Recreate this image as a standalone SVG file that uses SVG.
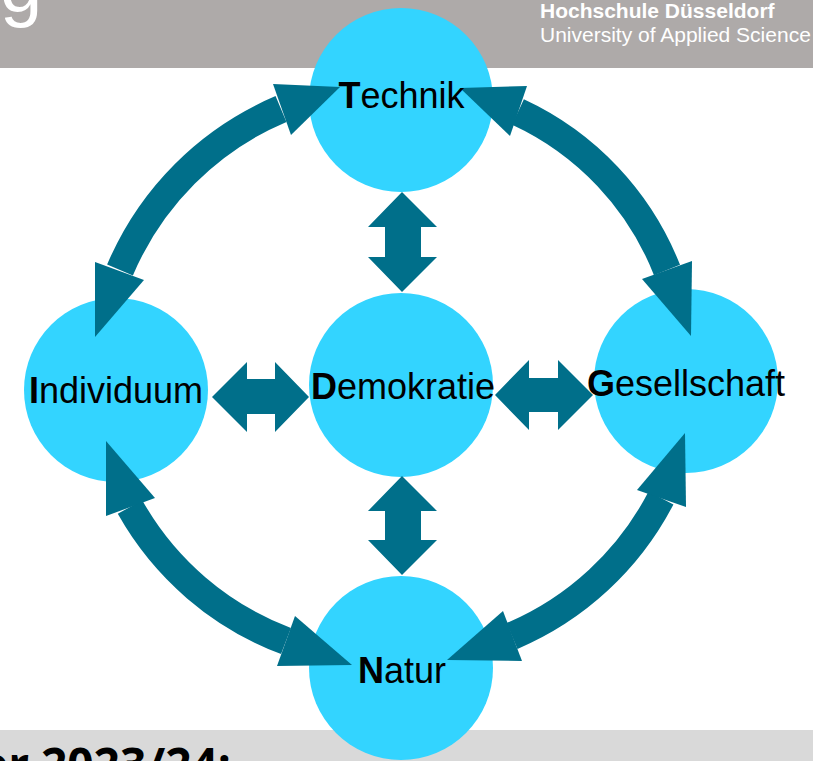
<svg xmlns="http://www.w3.org/2000/svg" width="813" height="761" viewBox="0 0 813 761">
<style>
.node{fill:#33d4ff}
.arrow{fill:#006f8a}
.shaft{fill:none;stroke:#006f8a;stroke-width:28}
.lbl{font-family:"Liberation Sans",Arial,sans-serif;font-size:36px;fill:#000;text-anchor:middle}
.b{font-weight:bold}
.hdr{font-family:"Liberation Sans",Arial,sans-serif;fill:#fff}
</style>
<rect x="0" y="0" width="813" height="68" fill="#aeaaa9"/>
<text class="hdr" x="0" y="12" font-size="76">g</text>
<text class="hdr" x="540" y="18" font-size="21" font-weight="bold">Hochschule Düsseldorf</text>
<text class="hdr" x="540" y="42" font-size="21">University of Applied Science</text>
<rect x="0" y="730" width="813" height="31" fill="#d9d9d9"/>
<text x="-19" y="781" font-family="'Open Sans','Liberation Sans',sans-serif" font-weight="bold" font-size="46" fill="#000">er 2023/24:</text>

<g id="technik"><circle class="node" cx="401" cy="100" r="92"/></g>
<g id="individuum"><circle class="node" cx="116" cy="390" r="92"/></g>
<g id="demokratie"><circle class="node" cx="401" cy="385" r="92"/></g>
<g id="gesellschaft"><circle class="node" cx="686" cy="381" r="92"/></g>
<g id="natur"><circle class="node" cx="401" cy="668" r="92"/></g>

<g id="connectors">
<polygon class="arrow" points="402,192 437,227 421,227 421,257 437,257 402,292 368,257 385,257 385,227 368,227"/>
<polygon class="arrow" points="402,476 437,511 421,511 421,540 437,540 402,575 368,540 385,540 385,511 368,511"/>
<polygon class="arrow" points="212,397 247,362 247,379 275,379 275,362 309,397 275,432 275,414 247,414 247,432"/>
<polygon class="arrow" points="495,395 529,360 529,378 558,378 558,360 593,395 558,430 558,412 529,412 529,430"/>

<path class="shaft" d="M120,270 A303,303 0 0 1 281,109"/>
<polygon class="arrow" points="340,87 273,84 291,135"/>
<polygon class="arrow" points="95,337 95,262 144,280"/>

<path class="shaft" d="M518,112 A292,292 0 0 1 667,270"/>
<polygon class="arrow" points="460,88 527,86 510,136"/>
<polygon class="arrow" points="691,336 692,261 642,279"/>

<path class="shaft" d="M661,498 A300,300 0 0 1 512,636"/>
<polygon class="arrow" points="685,433 637,490 686,507"/>
<polygon class="arrow" points="447,660 503,611 522,661"/>

<path class="shaft" d="M286,641 A300,300 0 0 1 130,507"/>
<polygon class="arrow" points="106,441 106,516 155,498"/>
<polygon class="arrow" points="352,665 295,616 277,666"/>
</g>

<g id="labels">
<text id="label-technik" class="lbl" x="401.5" y="108"><tspan class="b">T</tspan>echnik</text>
<text id="label-individuum" class="lbl" x="116" y="403"><tspan class="b">I</tspan>ndividuum</text>
<text id="label-demokratie" class="lbl" x="403" y="399"><tspan class="b">D</tspan>emokratie</text>
<text id="label-gesellschaft" class="lbl" x="686" y="396"><tspan class="b">G</tspan>esellschaft</text>
<text id="label-natur" class="lbl" x="402" y="683"><tspan class="b">N</tspan>atur</text>
</g>
</svg>
